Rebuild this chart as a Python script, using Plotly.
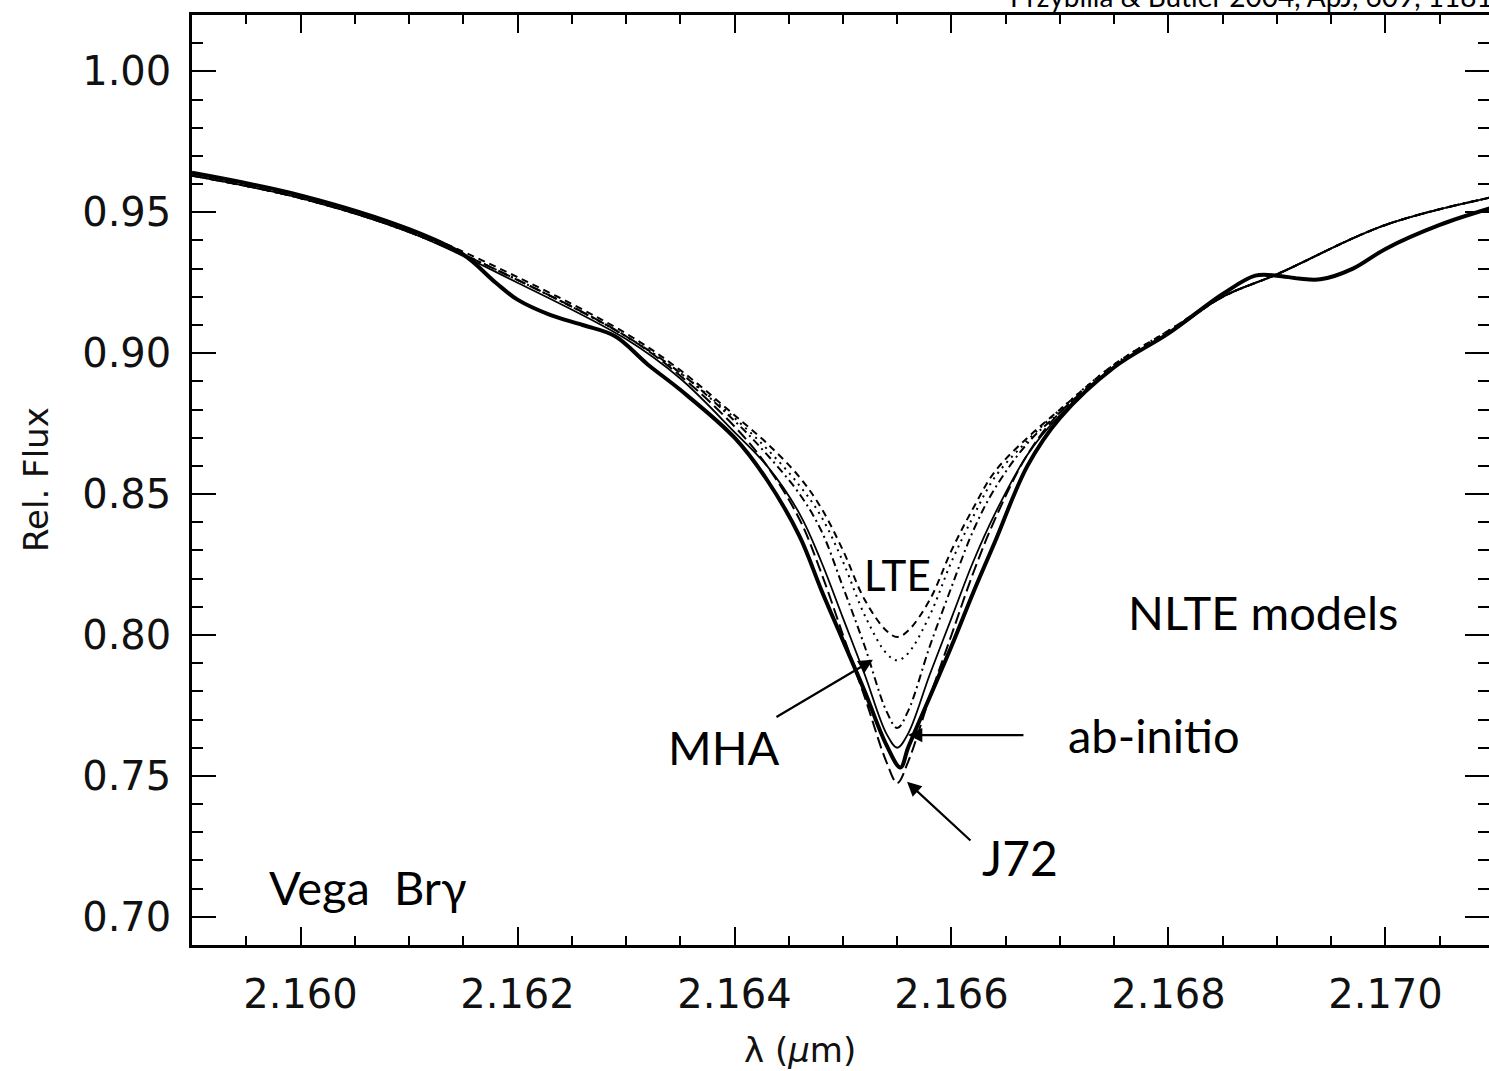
import plotly.graph_objects as go

# ---------------- data ----------------
wl_model = [2.1590, 2.1600, 2.1610, 2.1620, 2.1630, 2.1635, 2.1640, 2.1643, 2.1646,
            2.1648, 2.1650, 2.1652, 2.1654, 2.1655, 2.1656, 2.1658, 2.1660, 2.1662,
            2.1664, 2.1667, 2.1670, 2.1675, 2.1680, 2.1685, 2.1690, 2.1700, 2.1710]

lte_dash = [0.964, 0.956, 0.944, 0.927, 0.907, 0.894, 0.878, 0.868, 0.856,
            0.845, 0.830, 0.8125, 0.8015, 0.7993, 0.8015, 0.8125, 0.830, 0.845,
            0.858, 0.870, 0.880, 0.896, 0.908, 0.920, 0.928, 0.9455, 0.9555]

lte_dot = [0.963, 0.955, 0.943, 0.926, 0.906, 0.893, 0.877, 0.866, 0.853,
           0.842, 0.826, 0.807, 0.7935, 0.791, 0.7935, 0.807, 0.826, 0.842,
           0.856, 0.869, 0.880, 0.896, 0.908, 0.920, 0.928, 0.9455, 0.9555]

mha = [0.963, 0.955, 0.943, 0.926, 0.906, 0.893, 0.876, 0.864, 0.850,
       0.837, 0.817, 0.796, 0.773, 0.767, 0.773, 0.796, 0.817, 0.837,
       0.852, 0.868, 0.879, 0.895, 0.907, 0.920, 0.928, 0.9455, 0.9555]

abinitio = [0.963, 0.955, 0.943, 0.925, 0.905, 0.891, 0.872, 0.860, 0.843,
            0.826, 0.806, 0.786, 0.765, 0.760, 0.765, 0.786, 0.806, 0.826,
            0.843, 0.864, 0.878, 0.895, 0.907, 0.920, 0.928, 0.9455, 0.9555]

j72 = [0.963, 0.955, 0.943, 0.926, 0.906, 0.892, 0.874, 0.860, 0.841,
       0.822, 0.800, 0.778, 0.755, 0.7475, 0.755, 0.778, 0.800, 0.822,
       0.841, 0.864, 0.879, 0.895, 0.907, 0.920, 0.928, 0.9455, 0.9555]

wl_obs = [2.1590, 2.1600, 2.1610, 2.1615, 2.1618, 2.1620, 2.1623, 2.1626, 2.1629,
          2.1632, 2.1635, 2.1640, 2.1643, 2.1646, 2.1648, 2.1650, 2.1652, 2.1654,
          2.16553, 2.1656, 2.1658, 2.1660, 2.1662, 2.1664, 2.1667, 2.1670, 2.1675,
          2.1680, 2.1685, 2.1688, 2.1690, 2.1692, 2.1694, 2.1697, 2.1700, 2.1705, 2.1710]

obs = [0.964, 0.956, 0.944, 0.935, 0.925, 0.919, 0.9136, 0.910, 0.906,
       0.896, 0.887, 0.870, 0.855, 0.835, 0.816, 0.798, 0.780, 0.761,
       0.753, 0.760, 0.778, 0.796, 0.815, 0.833, 0.860, 0.877, 0.895,
       0.907, 0.921, 0.9275, 0.9275, 0.9265, 0.9262, 0.930, 0.937, 0.9455, 0.9518]

x_ticks = [2.160, 2.162, 2.164, 2.166, 2.168, 2.170]
y_ticks = [0.70, 0.75, 0.80, 0.85, 0.90, 0.95, 1.00]

# ---------------- figure ----------------
fig = go.Figure()

def add(x, y, width, dash):
    fig.add_trace(go.Scatter(x=x, y=y, mode="lines", line_shape="spline",
                             line=dict(color="black", width=width, dash=dash),
                             showlegend=False, hoverinfo="skip"))

add(wl_model, lte_dash, 2, "7px,5px")
add(wl_model, lte_dot, 2, "2px,5px")
add(wl_model, mha, 2, "8px,4px,2px,4px")
add(wl_model, j72, 2, "12px,5px")
add(wl_model, abinitio, 1.8, "solid")
add(wl_obs, obs, 4, "solid")

# helper trace for right-side ticks (no line)
fig.add_trace(go.Scatter(x=[wl_model[0]], y=[y_ticks[0]], yaxis="y2", mode="markers",
                         marker=dict(opacity=0), showlegend=False, hoverinfo="skip"))

tick_font = dict(family="DejaVu Sans", size=40, color="#111")

fig.update_layout(
    width=1489, height=1071,
    margin=dict(l=192, r=0, t=15, b=126),
    paper_bgcolor="white", plot_bgcolor="white",
    xaxis=dict(range=[2.159, 2.170954], tickvals=x_ticks, tickformat=".3f",
               ticks="inside", ticklen=18, tickwidth=2, tickcolor="black",
               showline=True, linewidth=2.5, linecolor="black", mirror="ticks",
               showgrid=False, zeroline=False, tickfont=tick_font,
               ticklabelstandoff=12,
               minor=dict(dtick=0.0005, tick0=2.159, ticks="inside", ticklen=9,
                          tickwidth=2, tickcolor="black", showgrid=False)),
    yaxis=dict(range=[0.69, 1.02], tickvals=y_ticks, tickformat=".2f",
               ticks="inside", ticklen=24, tickwidth=1.5, tickcolor="black",
               showline=True, linewidth=2.5, linecolor="black", mirror=False,
               showgrid=False, zeroline=False, tickfont=tick_font,
               ticklabelstandoff=10,
               minor=dict(dtick=0.01, tick0=0.69, ticks="inside", ticklen=11,
                          tickwidth=2, tickcolor="black", showgrid=False)),
    yaxis2=dict(range=[0.69, 1.02], overlaying="y", side="right", tickvals=y_ticks,
                ticks="inside", ticklen=24, tickwidth=1.5, tickcolor="black",
                showline=False, showgrid=False, zeroline=False, showticklabels=False,
                minor=dict(dtick=0.01, tick0=0.69, ticks="inside", ticklen=11,
                           tickwidth=2, tickcolor="black", showgrid=False)),
)

# axis titles
fig.add_annotation(text="Rel. Flux", xref="paper", yref="paper",
                   x=-(192 - 36) / 1297, y=0.5, xanchor="center", yanchor="middle",
                   textangle=-90, showarrow=False,
                   font=dict(family="DejaVu Sans", size=34, color="#111"))
fig.add_annotation(text="λ (<i>μ</i>m)", xref="paper", yref="paper",
                   x=(800 - 192) / 1297, y=-(1050 - 945) / 930,
                   xanchor="center", yanchor="middle",
                   showarrow=False, font=dict(family="DejaVu Sans", size=34, color="#111"))

# citation (cut at the top)
fig.add_annotation(text="Przybilla & Butler 2004, ApJ, 609, 1181", xref="paper", yref="paper",
                   x=(1495 - 192) / 1297, y=1.0, xanchor="right", yanchor="bottom",
                   showarrow=False, font=dict(family="Lato", size=28, color="black"))

# in-plot labels (text, x, y, font size)
labels = [("LTE", 2.165498, 0.8213, 42), ("NLTE models", 2.168871, 0.8082, 47),
          ("MHA", 2.163903, 0.7603, 47), ("ab-initio", 2.167866, 0.7645, 47),
          ("J72", 2.166631, 0.7212, 48), ("Vega  Brγ", 2.160622, 0.7106, 47)]
for t, x, y, s in labels:
    fig.add_annotation(text=t, x=x, y=y, showarrow=False,
                       font=dict(family="Lato", size=s, color="black"))

# arrows (head, tail)
arrows = [((2.165276, 0.7912), (2.164373, 0.7706)),
          ((2.165599, 0.7645), (2.166677, 0.7645)),
          ((2.165590, 0.7479), (2.166189, 0.7266))]
for (hx, hy), (tx, ty) in arrows:
    fig.add_annotation(text="", x=hx, y=hy, ax=tx, ay=ty, xref="x", yref="y",
                       axref="x", ayref="y", showarrow=True, arrowhead=2,
                       arrowsize=1.3, arrowwidth=2.2, arrowcolor="black")

fig.write_html("out.html")
